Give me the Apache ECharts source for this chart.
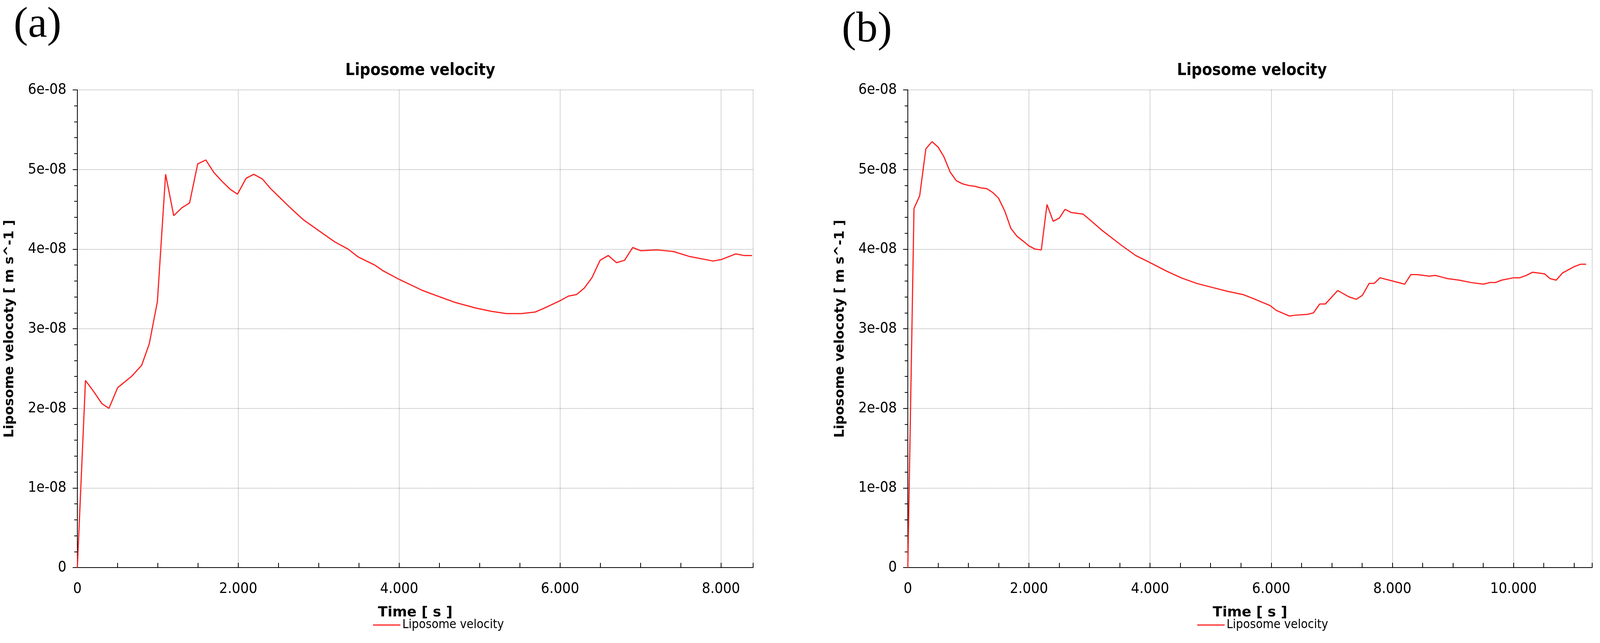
<!DOCTYPE html>
<html>
<head>
<meta charset="utf-8">
<script src="https://cdn.jsdelivr.net/npm/echarts@6/dist/echarts.min.js"></script>
<style>html,body{margin:0;background:#fff}#chart{width:4146px;height:1645px}</style>
</head>
<body>
<div id="chart"></div>
<script>
// panel (a): time [s], velocity [m/s]
var timeA = [0,101,197,304,393,501,672,799,894,995,1097,1198,1300,1395,1496,1597,1699,1800,1902,1990,2098,2193,2301,2402,2504,2605,2700,2808,3004,3201,3366,3493,3696,3797,4000,4292,4507,4697,4951,5141,5331,5521,5692,5806,5997,6105,6206,6301,6396,6498,6599,6701,6802,6903,7004,7207,7410,7600,7904,8006,8183,8284,8386];
var velA = [0,2.35,2.22,2.06,2.0,2.26,2.40,2.54,2.81,3.34,4.94,4.42,4.52,4.58,5.07,5.12,4.96,4.85,4.75,4.69,4.89,4.94,4.88,4.76,4.66,4.56,4.47,4.37,4.23,4.09,4.00,3.90,3.80,3.73,3.62,3.48,3.40,3.33,3.26,3.22,3.19,3.19,3.21,3.26,3.35,3.41,3.43,3.51,3.64,3.86,3.92,3.83,3.86,4.02,3.98,3.99,3.97,3.91,3.85,3.87,3.94,3.92,3.92];
// panel (b)
var timeB = [0,102,196,298,400,502,596,698,800,902,1004,1106,1200,1302,1404,1498,1600,1702,1804,1906,2000,2102,2204,2298,2400,2502,2596,2698,2894,3064,3200,3404,3523,3762,4000,4255,4511,4766,5021,5277,5532,5702,5983,6085,6298,6400,6596,6698,6800,6894,7098,7285,7404,7506,7617,7702,7796,8000,8204,8306,8409,8613,8706,8809,8911,9106,9302,9506,9609,9702,9804,10000,10102,10213,10315,10511,10604,10706,10809,11004,11106,11200];
var velB = [0,4.51,4.67,5.26,5.35,5.28,5.16,4.97,4.86,4.82,4.80,4.79,4.77,4.76,4.71,4.64,4.48,4.26,4.16,4.10,4.04,4.00,3.99,4.56,4.35,4.39,4.50,4.46,4.44,4.33,4.24,4.12,4.05,3.92,3.83,3.73,3.64,3.57,3.52,3.47,3.43,3.38,3.29,3.23,3.16,3.17,3.18,3.20,3.31,3.31,3.48,3.40,3.37,3.42,3.57,3.57,3.64,3.60,3.56,3.68,3.68,3.66,3.67,3.65,3.63,3.61,3.58,3.56,3.58,3.58,3.61,3.64,3.64,3.67,3.71,3.69,3.63,3.61,3.70,3.78,3.81,3.81];
var yTicks = ['0','1e-08','2e-08','3e-08','4e-08','5e-08','6e-08'];

var SCALE = 1e-8;
function pairs(t, v) { return t.map(function (x, i) { return [x, v[i] * SCALE]; }); }

var tickFont = 'DejaVu Sans Condensed';
var gridLine = { show: true, lineStyle: { color: '#a8a8a8', type: 'dotted', width: 2 } };

function xAxis(idx, max) {
    return {
        type: 'value', gridIndex: idx, min: 0, max: max, interval: 2000, offset: 16,
        name: 'Time [ s ]', nameLocation: 'middle', nameGap: 82,
        nameTextStyle: { fontFamily: 'DejaVu Sans', fontWeight: 'bold', fontSize: 36, color: '#000' },
        axisLine: { show: true, lineStyle: { color: '#000', width: 2 } },
        axisTick: { show: true, inside: true, length: 12, lineStyle: { color: '#000', width: 2 } },
        minorTick: { show: true, splitNumber: 4, length: 12, lineStyle: { color: '#000', width: 2 } },
        axisLabel: { fontFamily: tickFont, fontSize: 38, color: '#000', margin: 20, showMaxLabel: false,
            formatter: function (v) { return v === 0 ? '0' : (v / 1000) + '.000'; } },
        splitLine: gridLine
    };
}
function yAxis(idx) {
    return {
        type: 'value', gridIndex: idx, min: 0, max: 6 * SCALE, interval: SCALE, offset: 16,
        name: 'Liposome velocoty [ m s^-1 ]', nameLocation: 'middle', nameGap: 140,
        nameTextStyle: { fontFamily: 'DejaVu Sans', fontWeight: 'bold', fontSize: 34, color: '#000' },
        axisLine: { show: true, lineStyle: { color: '#000', width: 2 } },
        axisTick: { show: true, length: 12, lineStyle: { color: '#000', width: 2 } },
        minorTick: { show: true, splitNumber: 5, length: 8, lineStyle: { color: '#000', width: 2 } },
        axisLabel: { fontFamily: tickFont, fontSize: 38, color: '#000', margin: 12,
            formatter: function (v) { return yTicks[Math.round(v / SCALE)]; } },
        splitLine: gridLine
    };
}
function series(idx, data) {
    return { name: 'Liposome velocity', type: 'line', xAxisIndex: idx, yAxisIndex: idx,
        data: data, symbol: 'none', lineStyle: { color: '#ff2020', width: 3 }, itemStyle: { color: '#ff2020' } };
}
function legend(left) {
    return { data: ['Liposome velocity'], left: left, top: 1578, icon: 'rect', itemWidth: 70, itemHeight: 3,
        textStyle: { fontFamily: tickFont, fontSize: 32, color: '#000' } };
}
var titleStyle = { fontFamily: 'DejaVu Sans Condensed', fontWeight: 'bold', fontSize: 42, color: '#000' };

var chart = echarts.init(document.getElementById('chart'));
chart.setOption({
    animation: false,
    title: [
        { text: 'Liposome velocity', left: 1071, top: 155, textAlign: 'center', textStyle: titleStyle },
        { text: 'Liposome velocity', left: 3200, top: 155, textAlign: 'center', textStyle: titleStyle }
    ],
    graphic: [
        { type: 'text', left: 35, top: 10, style: { text: '(a)', font: '110px "Liberation Serif"', fill: '#000' } },
        { type: 'text', left: 2155, top: 22, style: { text: '(b)', font: '110px "Liberation Serif"', fill: '#000' } }
    ],
    legend: [legend(950), legend(3060)],
    grid: [
        { left: 198, width: 1730, top: 230, height: 1222 },
        { left: 2324, width: 1752, top: 230, height: 1222 }
    ],
    xAxis: [xAxis(0, 8400), xAxis(1, 11300)],
    yAxis: [yAxis(0), yAxis(1)],
    series: [series(0, pairs(timeA, velA)), series(1, pairs(timeB, velB))]
});
</script>
</body>
</html>
